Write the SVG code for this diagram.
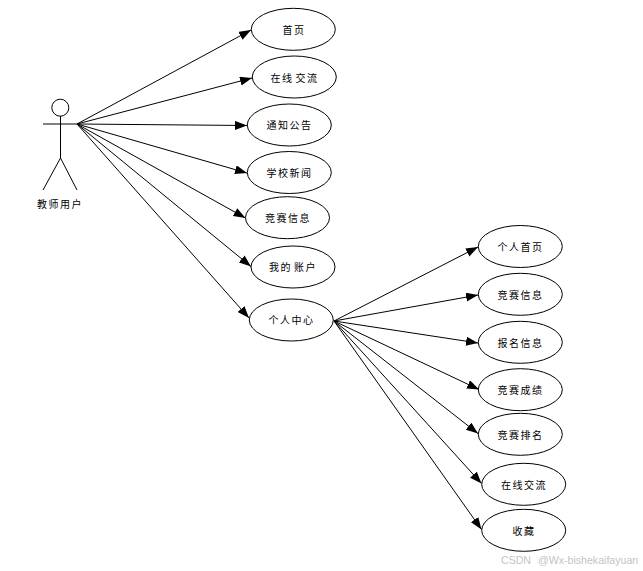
<svg xmlns="http://www.w3.org/2000/svg" width="643" height="571" viewBox="0 0 643 571">
<style>
text{font-family:"Noto Sans CJK SC","Liberation Sans",sans-serif;font-size:10px;letter-spacing:1.5px;text-anchor:middle;fill:#000}
ellipse{fill:#fff;stroke:#000;stroke-width:1}
.c line{stroke:#000;stroke-width:1;marker-end:url(#a)}
.s{fill:none;stroke:#000;stroke-width:1}
text.w{font-family:"Liberation Sans",sans-serif;font-size:10.6px;letter-spacing:0;fill:#c4c4c4;text-anchor:start}
</style>
<defs><marker id="a" markerUnits="userSpaceOnUse" markerWidth="13" markerHeight="10" refX="12" refY="4.5" orient="auto"><path d="M0 0L12 4.5L0 9Z" fill="#000"/></marker></defs>
<rect width="643" height="571" fill="#fff"/>
<g id="connectors" class="c">
<line x1="77" y1="124" x2="251" y2="30"/>
<line x1="77" y1="124" x2="252" y2="78"/>
<line x1="77" y1="124" x2="247" y2="125.5"/>
<line x1="77" y1="124" x2="247" y2="173"/>
<line x1="77" y1="124" x2="245.5" y2="218"/>
<line x1="77" y1="124" x2="251" y2="266.5"/>
<line x1="77" y1="124" x2="249" y2="318"/>
<line x1="334" y1="321" x2="478" y2="247"/>
<line x1="334" y1="321" x2="478" y2="295"/>
<line x1="334" y1="321" x2="478" y2="343"/>
<line x1="334" y1="321" x2="479" y2="389.5"/>
<line x1="334" y1="321" x2="478" y2="433.5"/>
<line x1="334" y1="321" x2="481.5" y2="483.5"/>
<line x1="334" y1="321" x2="481.5" y2="529.5"/>
</g>
<g id="actor"><circle class="s" cx="60.3" cy="107.7" r="8.5"/><path class="s" d="M43 124H77M60.5 116V158L43 190M60.5 158L77 190"/><text x="60" y="208">教师用户</text></g>
<g id="n1"><ellipse cx="293.3" cy="29.3" rx="42" ry="21"/><text x="294" y="34">首页</text></g>
<g id="n2"><ellipse cx="294.3" cy="77" rx="42" ry="21"/><text x="294.5" y="82">在线<tspan dx="2">交流</tspan></text></g>
<g id="n3"><ellipse cx="289.3" cy="125" rx="42" ry="21"/><text x="289.5" y="129">通知公告</text></g>
<g id="n4"><ellipse cx="289.3" cy="172.5" rx="42" ry="21"/><text x="289.5" y="177">学校新闻</text></g>
<g id="n5"><ellipse cx="287.5" cy="217.7" rx="42" ry="21"/><text x="288" y="222">竞赛信息</text></g>
<g id="n6"><ellipse cx="293" cy="267" rx="42" ry="21"/><text x="293" y="271">我的<tspan dx="2">账户</tspan></text></g>
<g id="n7"><ellipse cx="291.3" cy="320" rx="42" ry="21"/><text x="291.5" y="324">个人中心</text></g>
<g id="m1"><ellipse cx="520.3" cy="246.5" rx="42" ry="21"/><text x="520.5" y="251">个人首页</text></g>
<g id="m2"><ellipse cx="520.3" cy="294.3" rx="42" ry="21"/><text x="520.5" y="299">竞赛信息</text></g>
<g id="m3"><ellipse cx="520.3" cy="342.3" rx="42" ry="21"/><text x="520.5" y="347">报名信息</text></g>
<g id="m4"><ellipse cx="520.3" cy="389.7" rx="42" ry="21"/><text x="520.5" y="394">竞赛成绩</text></g>
<g id="m5"><ellipse cx="520.3" cy="434.3" rx="42" ry="21"/><text x="520.5" y="439">竞赛排名</text></g>
<g id="m6"><ellipse cx="523.7" cy="484.3" rx="42" ry="21"/><text x="524" y="489">在线交流</text></g>
<g id="m7"><ellipse cx="523.7" cy="530.3" rx="42" ry="21"/><text x="524" y="535">收藏</text></g>
<text class="w" x="501" y="564">CSDN <tspan dx="4">@Wx-bishekaifayuan</tspan></text>
</svg>
